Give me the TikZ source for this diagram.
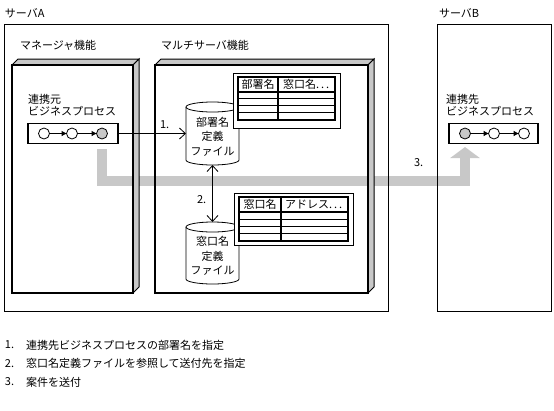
\documentclass[tikz,border=0pt]{standalone}
\usepackage{fontspec}
\setmainfont{Noto Sans CJK JP}
\usetikzlibrary{arrows.meta,backgrounds}
\definecolor{lg}{RGB}{200,200,200}
\begin{document}
\begin{tikzpicture}[x=1pt,y=-1pt,
  every node/.style={font=\fontsize{11}{14.5}\selectfont, inner sep=0pt, outer sep=0pt},
  lbl/.style={anchor=west},
  srv/.style={draw, line width=1pt},
  face/.style={fill=lg, draw, line width=1pt},
  front/.style={draw, line width=1.6pt},
  proc/.style={draw, line width=1.3pt},
  dotc/.style={circle, draw, line width=0.8pt, minimum size=11pt},
  flow/.style={-{Triangle[length=5pt 0 0,width=5pt 0 0]}, line width=1.2pt},
  barb/.style={-{Straight Barb[length=6pt 0 0,width=11pt 0 0]}, line width=0.8pt},
  dbarb/.style={{Straight Barb[length=6pt 0 0,width=11pt 0 0]}-{Straight Barb[length=6pt 0 0,width=11pt 0 0]}, line width=0.8pt},
  cylbox/.style={minimum width=53pt},
  tabout/.style={draw, fill=white, line width=1pt},
  thin/.style={line width=0.8pt},
  thick/.style={line width=1.5pt}
]
\useasboundingbox (0,0) rectangle (554,410);

% server boxes
\draw[srv] (4,24) rectangle (388,311);
\draw[srv] (437,24) rectangle (551,311);
\node[lbl] (srvA) at (5,13) {サーバA};
\node[lbl] (srvB) at (439,13) {サーバB};

% manager 3D box
\filldraw[face] (12,65) -- (18,59) -- (139,59) -- (133,65) -- cycle;
\filldraw[face] (133,65) -- (139,59) -- (139,287) -- (133,293) -- cycle;
\draw[front] (12,65) rectangle (133,293);
\node[lbl] (mgr) at (20,45) {マネージャ機能};

% multi-server 3D box
\filldraw[face] (155,65) -- (161,59) -- (374,59) -- (368,65) -- cycle;
\filldraw[face] (368,65) -- (374,59) -- (374,287) -- (368,293) -- cycle;
\draw[front] (155,65) rectangle (368,293);
\node[lbl] (multi) at (161,45) {マルチサーバ機能};

% source process
\node[lbl] (srcl1) at (28,99.5) {連携元};
\node[lbl] (srcl2) at (28,111.5) {ビジネスプロセス};
\node[proc, minimum width=90pt, minimum height=20pt] (src) at (73,133.5) {};
\node[dotc] (s1) at (44,133.5) {};
\node[dotc] (s2) at (72,133.5) {};
\node[dotc, fill=lg] (s3) at (102,133.5) {};
\draw[flow] (s1) -- (s2);
\draw[flow] (s2) -- (s3);

% target process
\node[lbl] (dstl1) at (446,99.5) {連携先};
\node[lbl] (dstl2) at (446,111.5) {ビジネスプロセス};
\node[proc, minimum width=89pt, minimum height=20pt] (dst) at (493.5,133.5) {};
\node[dotc, fill=lg] (t1) at (465,133.5) {};
\node[dotc] (t2) at (494,133.5) {};
\node[dotc] (t3) at (524,133.5) {};
\draw[flow] (t1) -- (t2);
\draw[flow] (t2) -- (t3);

% cylinder 1
\node[cylbox, minimum height=63pt] (cyl1) at (212.5,133.5) {};
\draw[thin] ([yshift=-5pt]cyl1.north west) -- ([yshift=5pt]cyl1.south west)
  arc[start angle=180, end angle=0, x radius=26.5, y radius=5]
  -- ([yshift=-5pt]cyl1.north east);
\draw[thin] ([yshift=-5pt]cyl1.north) ellipse [x radius=26.5, y radius=5];
\node[align=center] (cyl1t) at (212.5,136.5) {部署名\\定義\\ファイル};

% cylinder 2
\node[cylbox, minimum height=62pt] (cyl2) at (212.5,253) {};
\draw[thin] ([yshift=-5pt]cyl2.north west) -- ([yshift=5pt]cyl2.south west)
  arc[start angle=180, end angle=0, x radius=26.5, y radius=5]
  -- ([yshift=-5pt]cyl2.north east);
\draw[thin] ([yshift=-5pt]cyl2.north) ellipse [x radius=26.5, y radius=5];
\node[align=center] (cyl2t) at (212.5,256) {窓口名\\定義\\ファイル};

% table 1
\node[tabout, minimum width=107pt, minimum height=55pt] (tab1) at (286.5,100.5) {};
\draw[thick] (238,77) rectangle (335,120);
\draw[thick] (278,77) -- (278,120);
\draw[thick] (238,92) -- (335,92);
\draw[thin] (238,98) -- (335,98) (238,105) -- (335,105) (238,112) -- (335,112);
\node (h11) at (258,84.5) {部署名};
\node[lbl] (h12) at (283,84.5) {窓口名.\hspace{2pt}.\hspace{2pt}.};

% table 2
\node[tabout, minimum width=119pt, minimum height=52pt] (tab2) at (293.5,219) {};
\draw[thick] (239,197) rectangle (348,241);
\draw[thick] (281,197) -- (281,241);
\draw[thick] (239,212) -- (348,212);
\draw[thin] (239,219) -- (348,219) (239,226) -- (348,226) (239,233) -- (348,233);
\node (h21) at (260,204.5) {窓口名};
\node[lbl] (h22) at (285,204.5) {アドレス.\hspace{2pt}.\hspace{2pt}.};

% connectors
\draw[barb] (src.east) -- (src.east -| cyl1.west);
\draw[dbarb] (cyl1.south) -- (cyl2.north);
\node[lbl] (n1) at (160,125) {1.};
\node[lbl] (n2) at (197,200) {2.};
\node[lbl] (n3) at (414,163) {3.};

\begin{scope}[on background layer]
\draw[lg, line width=9.5pt, -{Triangle[length=11pt 0 0, width=29pt 0 0]}]
  ([yshift=-15.5pt]s3.center) |- ([yshift=-47.5pt]t1.center) -- ([yshift=-13.5pt]t1.center);
\end{scope}

% footer
\node[lbl] (f1n) at (5,345) {1.};
\node[lbl] (f1) at (26,345) {連携先ビジネスプロセスの部署名を指定};
\node[lbl] (f2n) at (5,363.5) {2.};
\node[lbl] (f2) at (26,363.5) {窓口名定義ファイルを参照して送付先を指定};
\node[lbl] (f3n) at (5,382) {3.};
\node[lbl] (f3) at (26,382) {案件を送付};
\end{tikzpicture}
\end{document}
